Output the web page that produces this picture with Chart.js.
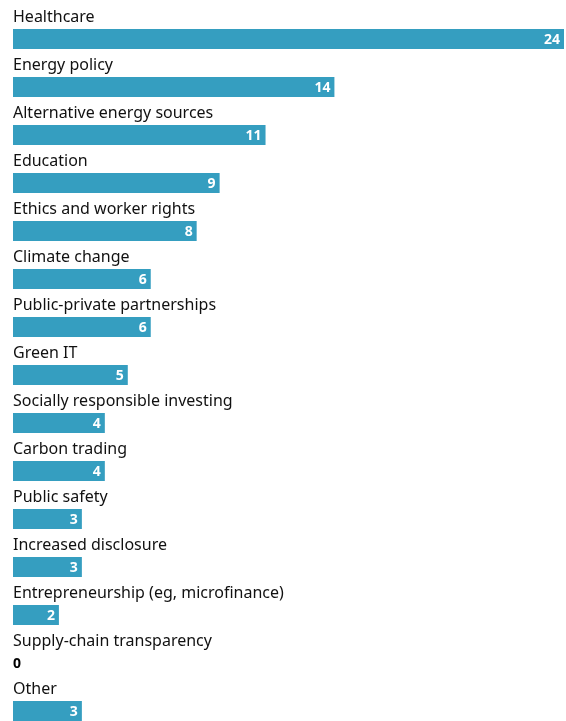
<!DOCTYPE html>
<html>
<head>
<meta charset="utf-8">
<script src="https://cdn.jsdelivr.net/npm/chart.js@4.4.0/dist/chart.umd.min.js"></script>
<style>
  html, body { margin: 0; padding: 0; background: #fff; }
  .chart-box { position: relative; width: 566px; height: 721px; }
</style>
</head>
<body>
<div class="chart-box"><canvas id="topics-chart"></canvas></div>
<script>
// Data
const categories = [
  "Healthcare",
  "Energy policy",
  "Alternative energy sources",
  "Education",
  "Ethics and worker rights",
  "Climate change",
  "Public-private partnerships",
  "Green IT",
  "Socially responsible investing",
  "Carbon trading",
  "Public safety",
  "Increased disclosure",
  "Entrepreneurship (eg, microfinance)",
  "Supply-chain transparency",
  "Other",
];
const values = [24, 14, 11, 9, 8, 6, 6, 5, 4, 4, 3, 3, 2, 0, 3];
const barColor = "#359ec0";
const fontFamily = "'Noto Sans', 'DejaVu Sans', sans-serif";

// Labels above bars + values inside bars
const barLabels = {
  id: "barLabels",
  afterDatasetsDraw(chart) {
    const ctx = chart.ctx;
    const meta = chart.getDatasetMeta(0);
    const left = chart.chartArea.left;
    ctx.save();
    meta.data.forEach((bar, i) => {
      ctx.textBaseline = "alphabetic";
      ctx.textAlign = "left";
      ctx.fillStyle = "#111";
      ctx.font = `16px ${fontFamily}`;
      ctx.fillText(categories[i], left, bar.y - 17);

      ctx.font = `bold 14px ${fontFamily}`;
      ctx.textBaseline = "middle";
      if (values[i] === 0) {
        ctx.fillStyle = "#000";
        ctx.textAlign = "left";
        ctx.fillText("0", left, bar.y + 1);
      } else {
        ctx.fillStyle = "#fff";
        ctx.textAlign = "right";
        ctx.fillText(String(values[i]), bar.x - 4, bar.y + 1);
      }
    });
    ctx.restore();
  },
};

const topicsChart = document.querySelector("#topics-chart");
if (topicsChart) {
  new Chart(topicsChart, {
    type: "bar",
    data: {
      labels: categories,
      datasets: [
        {
          data: values,
          backgroundColor: barColor,
          barThickness: 20,
          inflateAmount: 0,
          clip: false,
        },
      ],
    },
    options: {
      indexAxis: "y",
      maintainAspectRatio: false,
      responsive: true,
      animation: false,
      layout: {
        padding: { top: 39, bottom: 10, left: 13, right: 2 },
      },
      plugins: {
        legend: { display: false },
        tooltip: { enabled: false },
      },
      scales: {
        x: { display: false, min: 0, max: 24 },
        y: { display: false, offset: false },
      },
    },
    plugins: [barLabels],
  });
}
</script>
</body>
</html>
